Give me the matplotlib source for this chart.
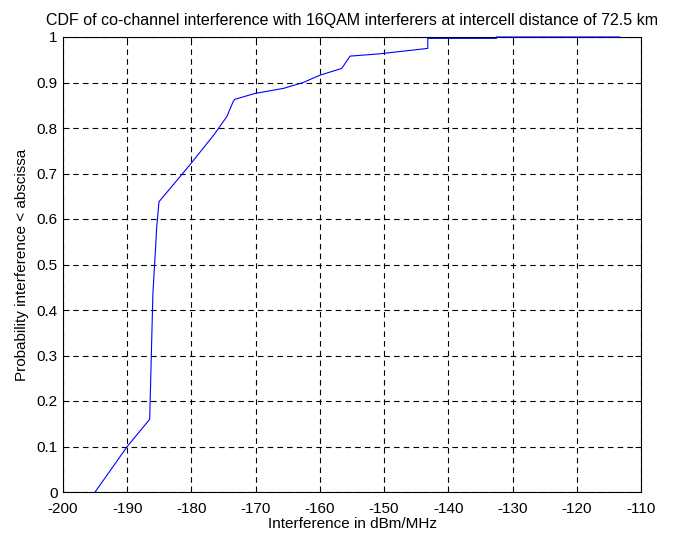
import matplotlib
matplotlib.use("Agg")
import matplotlib.pyplot as plt

plt.rcParams['font.family'] = ['Liberation Sans', 'DejaVu Sans']
plt.rcParams['lines.scale_dashes'] = False
plt.rcParams['axes.unicode_minus'] = False

# Interference (dBm/MHz) and CDF values
interference = [-195.0, -190.0, -186.5, -186.0, -185.4, -185.05, -180.3, -176.5,
                -174.5, -173.5, -173.25, -170.1, -165.7, -162.6, -160.0, -156.6,
                -155.3, -150.7, -145.7, -143.2, -143.2, -132.5, -132.5, -113.3]
probability = [0.0, 0.10, 0.16, 0.437, 0.583, 0.638, 0.718, 0.785,
               0.825, 0.858, 0.863, 0.876, 0.887, 0.900, 0.916, 0.931,
               0.958, 0.963, 0.971, 0.975, 0.997, 0.997, 1.0, 1.0]

xticks = [-200, -190, -180, -170, -160, -150, -140, -130, -120, -110]
yticks = [0, 0.1, 0.2, 0.3, 0.4, 0.5, 0.6, 0.7, 0.8, 0.9, 1]

fig = plt.figure(figsize=(6.82, 5.41), dpi=100)
ax = fig.add_axes([63/682, 49/541, 578/682, 455/541])
ax.plot(interference, probability, color=(0, 0, 1), linewidth=0.8, zorder=5, clip_on=False)
ax.set_xlim(-200, -110)
ax.set_ylim(0, 1)
ax.set_xticks(xticks)
ax.set_yticks(yticks)
ax.set_yticklabels([f"{v:g}" for v in yticks])
ax.grid(True, color='black', linestyle=(0, (4, 3)), linewidth=0.8)
ax.tick_params(direction='in', length=4, width=0.7, labelsize=11, top=True, right=True)
ax.tick_params(axis='x', pad=7)
ax.tick_params(axis='y', pad=4)
for s in ax.spines.values():
    s.set_linewidth(0.8)
ax.set_title("CDF of co-channel interference with 16QAM interferers at intercell distance of 72.5 km",
             fontsize=11.5, pad=9)
ax.set_xlabel("Interference in dBm/MHz", fontsize=11, labelpad=1)
ax.set_ylabel("Probability interference < abscissa", fontsize=11, labelpad=5)
fig.savefig("out.png", dpi=100)
